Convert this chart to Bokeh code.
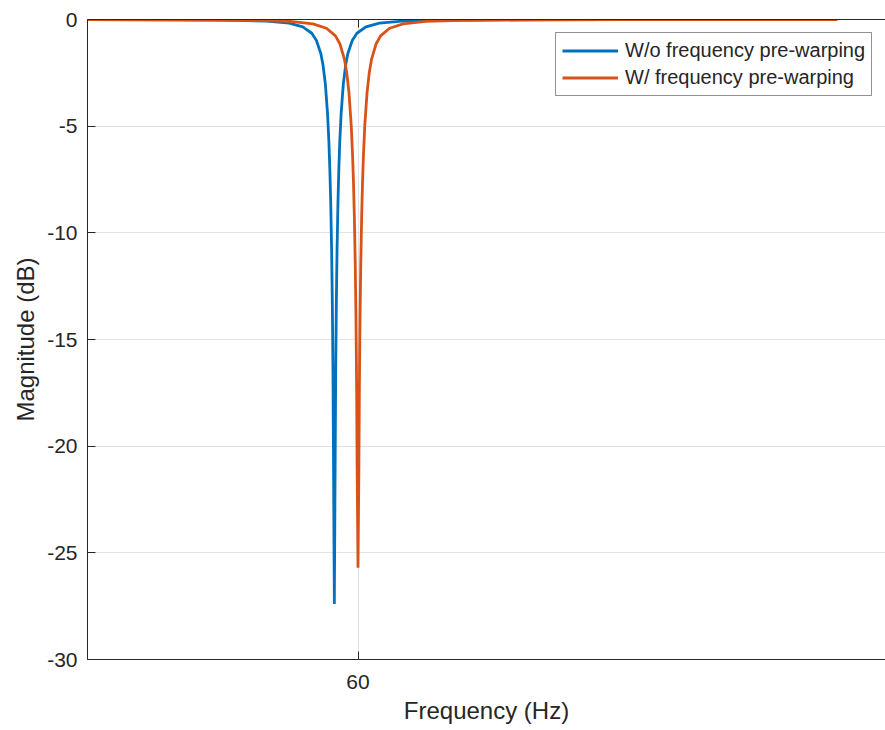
from bokeh.plotting import figure
from bokeh.models import LinearAxis, FixedTicker, Range1d, Legend, LegendItem
from bokeh.embed import file_html
from bokeh.resources import INLINE

# ---- data ----
freq_blue = [0, 14.75, 29.75, 39.75, 44.75, 47.75, 49.75, 50.75, 51.75, 52.25,
             52.75, 53.25, 53.55, 53.75, 53.95, 54.15, 54.3, 54.45, 54.55, 54.75,
             54.95, 55.05, 55.2, 55.35, 55.55, 55.75, 55.95, 56.25, 56.75, 57.25,
             57.75, 58.75, 59.75, 61.75, 64.75, 69.75, 79.75, 94.75, 114.75, 140, 166.3]
mag_blue = [-0.006, -0.011, -0.028, -0.077, -0.170, -0.341, -0.645, -0.969, -1.597, -2.148,
            -3.01, -4.437, -5.77, -6.99, -8.60, -10.83, -13.17, -16.57, -20.04, -27.4,
            -20.04, -16.57, -13.17, -10.83, -8.60, -6.99, -5.77, -4.437, -3.01, -2.148,
            -1.597, -0.969, -0.645, -0.341, -0.170, -0.077, -0.028, -0.011, -0.005, -0.0024, -0.0014]

freq_orange = [0, 20, 35, 45, 50, 53, 55, 56, 57, 57.5,
               58, 58.5, 58.8, 59, 59.2, 59.4, 59.55, 59.7, 59.8, 60,
               60.2, 60.3, 60.45, 60.6, 60.8, 61, 61.2, 61.5, 62, 62.5,
               63, 64, 65, 67, 70, 75, 85, 100, 120, 140, 166.3]
mag_orange = [-0.006, -0.013, -0.034, -0.092, -0.205, -0.41, -0.77, -1.15, -1.87, -2.49,
              -3.44, -4.98, -6.39, -7.66, -9.33, -11.60, -13.96, -17.39, -20.86, -25.7,
              -20.86, -17.39, -13.96, -11.60, -9.33, -7.66, -6.39, -4.98, -3.44, -2.49,
              -1.87, -1.15, -0.77, -0.41, -0.205, -0.092, -0.034, -0.013, -0.006, -0.0033, -0.0019]

x_ticks = [60]
y_ticks = [-30, -25, -20, -15, -10, -5, 0]
y_tick_labels = ["-30", "-25", "-20", "-15", "-10", "-5", "0"]
series_labels = ["W/o frequency pre-warping", "W/ frequency pre-warping"]
x_label = "Frequency (Hz)"
y_label = "Magnitude (dB)"

# ---- style ----
FONT = "Liberation Sans"
TXT = "#262626"
BLUE = "#0072BD"
ORANGE = "#D95319"
GRID = "#e3e3e3"

p = figure(width=885, height=730, output_backend="svg", toolbar_location=None,
           x_range=Range1d(0, 177), y_range=Range1d(-30, 0),
           min_border_left=87, min_border_right=0, min_border_top=19, min_border_bottom=71)
p.background_fill_color = "white"
p.border_fill_color = "white"
p.outline_line_color = None

r1 = p.line(freq_blue, mag_blue, line_color=BLUE, line_width=2.8)
r2 = p.line(freq_orange, mag_orange, line_color=ORANGE, line_width=2.8)

# axes
xa = p.xaxis[0]
xa.ticker = FixedTicker(ticks=x_ticks)
ya = p.yaxis[0]
ya.ticker = FixedTicker(ticks=y_ticks)
ya.major_label_overrides = {t: s for t, s in zip(y_ticks, y_tick_labels)}
for ax in (xa, ya):
    ax.axis_line_color = TXT
    ax.axis_line_width = 1
    ax.major_tick_line_color = TXT
    ax.major_tick_in = 8
    ax.major_tick_out = 0
    ax.minor_tick_line_color = None
    ax.major_label_text_font = FONT
    ax.major_label_text_font_size = "21px"
    ax.major_label_text_color = TXT
    ax.axis_label_text_font = FONT
    ax.axis_label_text_font_size = "24px"
    ax.axis_label_text_font_style = "normal"
    ax.axis_label_text_color = TXT
xa.axis_label = x_label
ya.axis_label = y_label
xa.major_label_standoff = 15
xa.axis_label_standoff = 5
ya.major_label_standoff = 10
ya.axis_label_standoff = 5

top = LinearAxis(ticker=FixedTicker(ticks=x_ticks), axis_line_color=TXT, axis_line_width=1,
                 major_tick_line_color=TXT, major_tick_in=8, major_tick_out=0,
                 minor_tick_line_color=None, major_label_text_color=None,
                 major_label_text_font_size="1px", major_label_standoff=0)
p.add_layout(top, "above")

# grids
p.xgrid.ticker = FixedTicker(ticks=x_ticks)
p.ygrid.ticker = FixedTicker(ticks=y_ticks)
for g in (p.xgrid[0], p.ygrid[0]):
    g.grid_line_color = GRID
    g.grid_line_width = 1

legend = Legend(items=[LegendItem(label=series_labels[0], renderers=[r1]),
                       LegendItem(label=series_labels[1], renderers=[r2])],
                location=(468, 563))
legend.label_text_font = FONT
legend.label_text_font_size = "20px"
legend.label_text_color = TXT
legend.glyph_width = 56
legend.glyph_height = 21
legend.label_height = 21
legend.label_standoff = 7
legend.spacing = 4
legend.padding = 6
legend.margin = 0
legend.border_line_color = TXT
legend.border_line_width = 1
legend.background_fill_color = "white"
legend.background_fill_alpha = 1
p.add_layout(legend, "center")

open("out.html", "w").write(file_html(p, INLINE))
